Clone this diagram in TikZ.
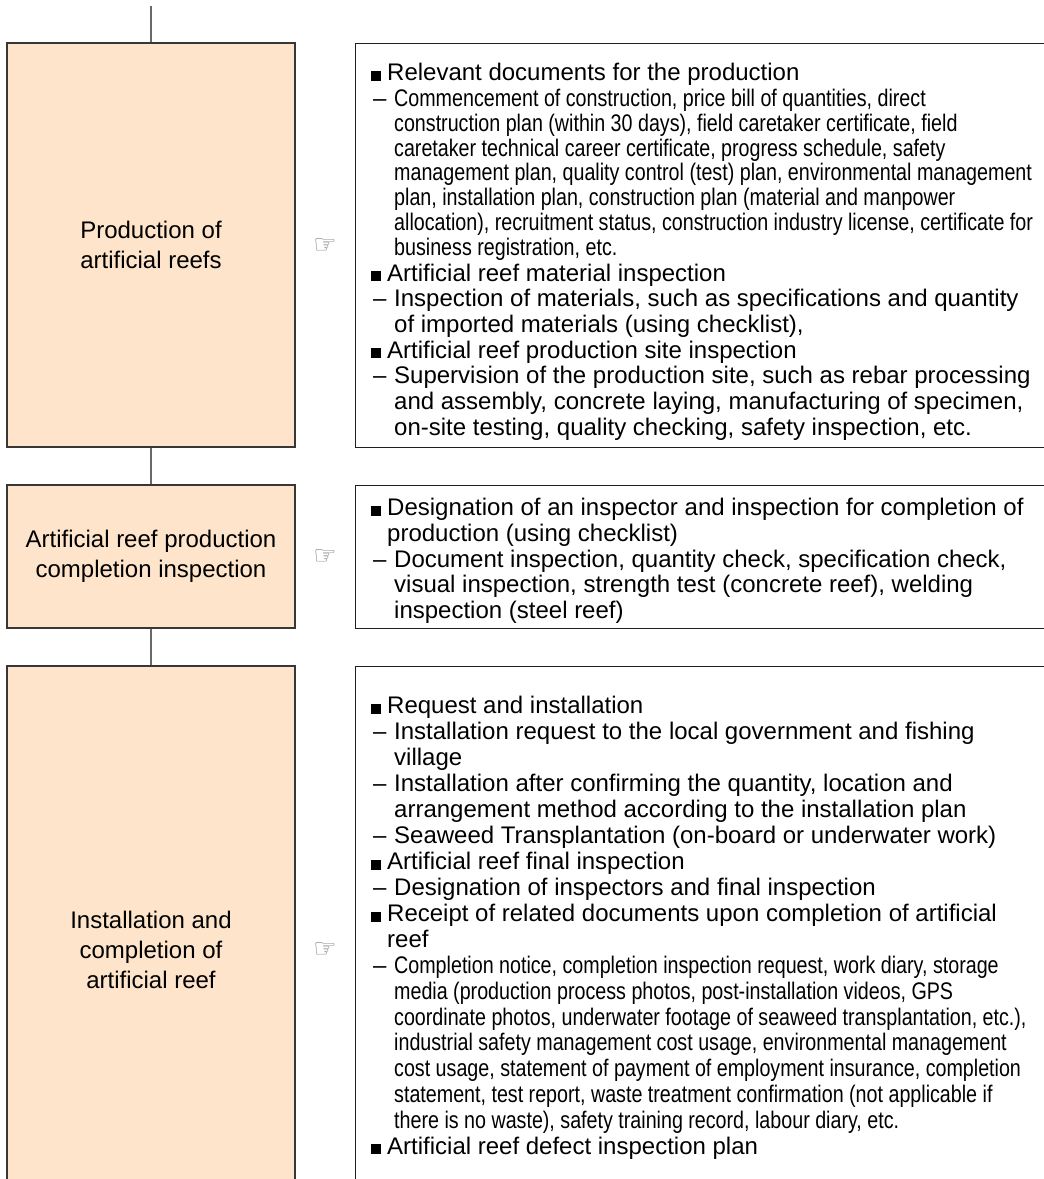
\documentclass[tikz,border=0pt]{standalone}
\usepackage{fontspec}
\setmainfont{Liberation Sans}
\newfontfamily\narrowfont{Liberation Sans}[FakeStretch=0.82]
\newfontfamily\symbolfont{DejaVu Sans}

\definecolor{stepfill}{RGB}{253,228,202}
\definecolor{edgegray}{RGB}{55,55,55}
\definecolor{linkgray}{RGB}{105,105,105}
\definecolor{handgray}{RGB}{125,125,125}

% list helpers
\newcommand{\sqb}{\makebox[16pt][l]{\rule{10pt}{10pt}}}
\newcommand{\dsh}{\makebox[23pt][l]{\hspace{2pt}–}}
\newcommand{\ind}{\hspace*{23pt}}
\newcommand{\hind}{\hspace*{16pt}}
\newcommand{\nw}{\narrowfont}
\newcommand{\topstrut}{\rule{0pt}{20pt}}

\begin{document}
\begin{tikzpicture}[x=1pt,y=-1pt,
  stepbox/.style={draw=edgegray, line width=1.2pt, fill=stepfill,
    minimum width=288pt, inner sep=0pt, align=center,
    font=\fontsize{24}{30}\selectfont},
  notebox/.style={draw=black!88, line width=1.3pt, fill=white,
    minimum width=760pt, inner sep=0pt},
  notetext/.style={anchor=north west, inner sep=0pt, align=left,
    font=\fontsize{24}{25.7}\selectfont},
  hand/.style={text=handgray, inner sep=0pt,
    font=\symbolfont\fontsize{26}{26}\selectfont},
  link/.style={draw=linkgray, line width=1.2pt}
]
\useasboundingbox (0,0) rectangle (1044,1179);
\clip (0,0) rectangle (1044,1179);

% process steps
\node[stepbox, minimum height=404pt] (s1) at (151,245) {Production of\\artificial reefs};
\node[stepbox, minimum height=143pt] (s2) at (151,556.5) {Artificial reef production\\completion inspection};
\node[stepbox, minimum height=568pt] (s3) at (151,950) {Installation and\\completion of\\artificial reef};

% connectors
\coordinate (top) at (151,6);
\draw[link] (top) -- (s1.north);
\draw[link] (s1.south) -- (s2.north);
\draw[link] (s2.south) -- (s3.north);

% note boxes
\node[notebox, minimum height=404pt, anchor=north west] (n1) at (355,43) {};
\node[notebox, minimum height=143pt, anchor=north west] (n2) at (355,485) {};
\node[notebox, minimum height=568pt, anchor=north west] (n3) at (355,666) {};

% pointers
\node[hand] (h1) at (325,246) {☞};
\node[hand] (h2) at (325,557) {☞};
\node[hand] (h3) at (325,950) {☞};

% note texts
\node[notetext] (t1) at (371,60.6) {%
\topstrut\sqb Relevant documents for the production\\
\dsh{\nw Commencement of construction, price bill of quantities, direct}\\[-0.9pt]
\ind{\nw construction plan (within 30 days), field caretaker certificate, field}\\[-0.9pt]
\ind{\nw caretaker technical career certificate, progress schedule, safety}\\[-0.9pt]
\ind{\nw management plan, quality control (test) plan, environmental management}\\[-0.9pt]
\ind{\nw plan, installation plan, construction plan (material and manpower}\\[-0.9pt]
\ind{\nw allocation), recruitment status, construction industry license, certificate for}\\[-0.9pt]
\ind{\nw business registration, etc.}\\
\sqb Artificial reef material inspection\\
\dsh Inspection of materials, such as specifications and quantity\\
\ind of imported materials (using checklist),\\
\sqb Artificial reef production site inspection\\
\dsh Supervision of the production site, such as rebar processing\\
\ind and assembly, concrete laying, manufacturing of specimen,\\
\ind on-site testing, quality checking, safety inspection, etc.};

\node[notetext] (t2) at (371,495.6) {%
\topstrut\sqb Designation of an inspector and inspection for completion of\\
\hind production (using checklist)\\
\dsh Document inspection, quantity check, specification check,\\
\ind visual inspection, strength test (concrete reef), welding\\
\ind inspection (steel reef)};

\node[notetext, font=\fontsize{24}{26}\selectfont] (t3) at (371,693.6) {%
\topstrut\sqb Request and installation\\
\dsh Installation request to the local government and fishing\\
\ind village\\
\dsh Installation after confirming the quantity, location and\\
\ind arrangement method according to the installation plan\\
\dsh Seaweed Transplantation (on-board or underwater work)\\
\sqb Artificial reef final inspection\\
\dsh Designation of inspectors and final inspection\\
\sqb Receipt of related documents upon completion of artificial\\
\hind reef\\
\dsh{\nw Completion notice, completion inspection request, work diary, storage}\\[-0.3pt]
\ind{\nw media (production process photos, post-installation videos, GPS}\\[-0.3pt]
\ind{\nw coordinate photos, underwater footage of seaweed transplantation, etc.),}\\[-0.3pt]
\ind{\nw industrial safety management cost usage, environmental management}\\[-0.3pt]
\ind{\nw cost usage, statement of payment of employment insurance, completion}\\[-0.3pt]
\ind{\nw statement, test report, waste treatment confirmation (not applicable if}\\[-0.3pt]
\ind{\nw there is no waste), safety training record, labour diary, etc.}\\
\sqb Artificial reef defect inspection plan};
\end{tikzpicture}
\end{document}
